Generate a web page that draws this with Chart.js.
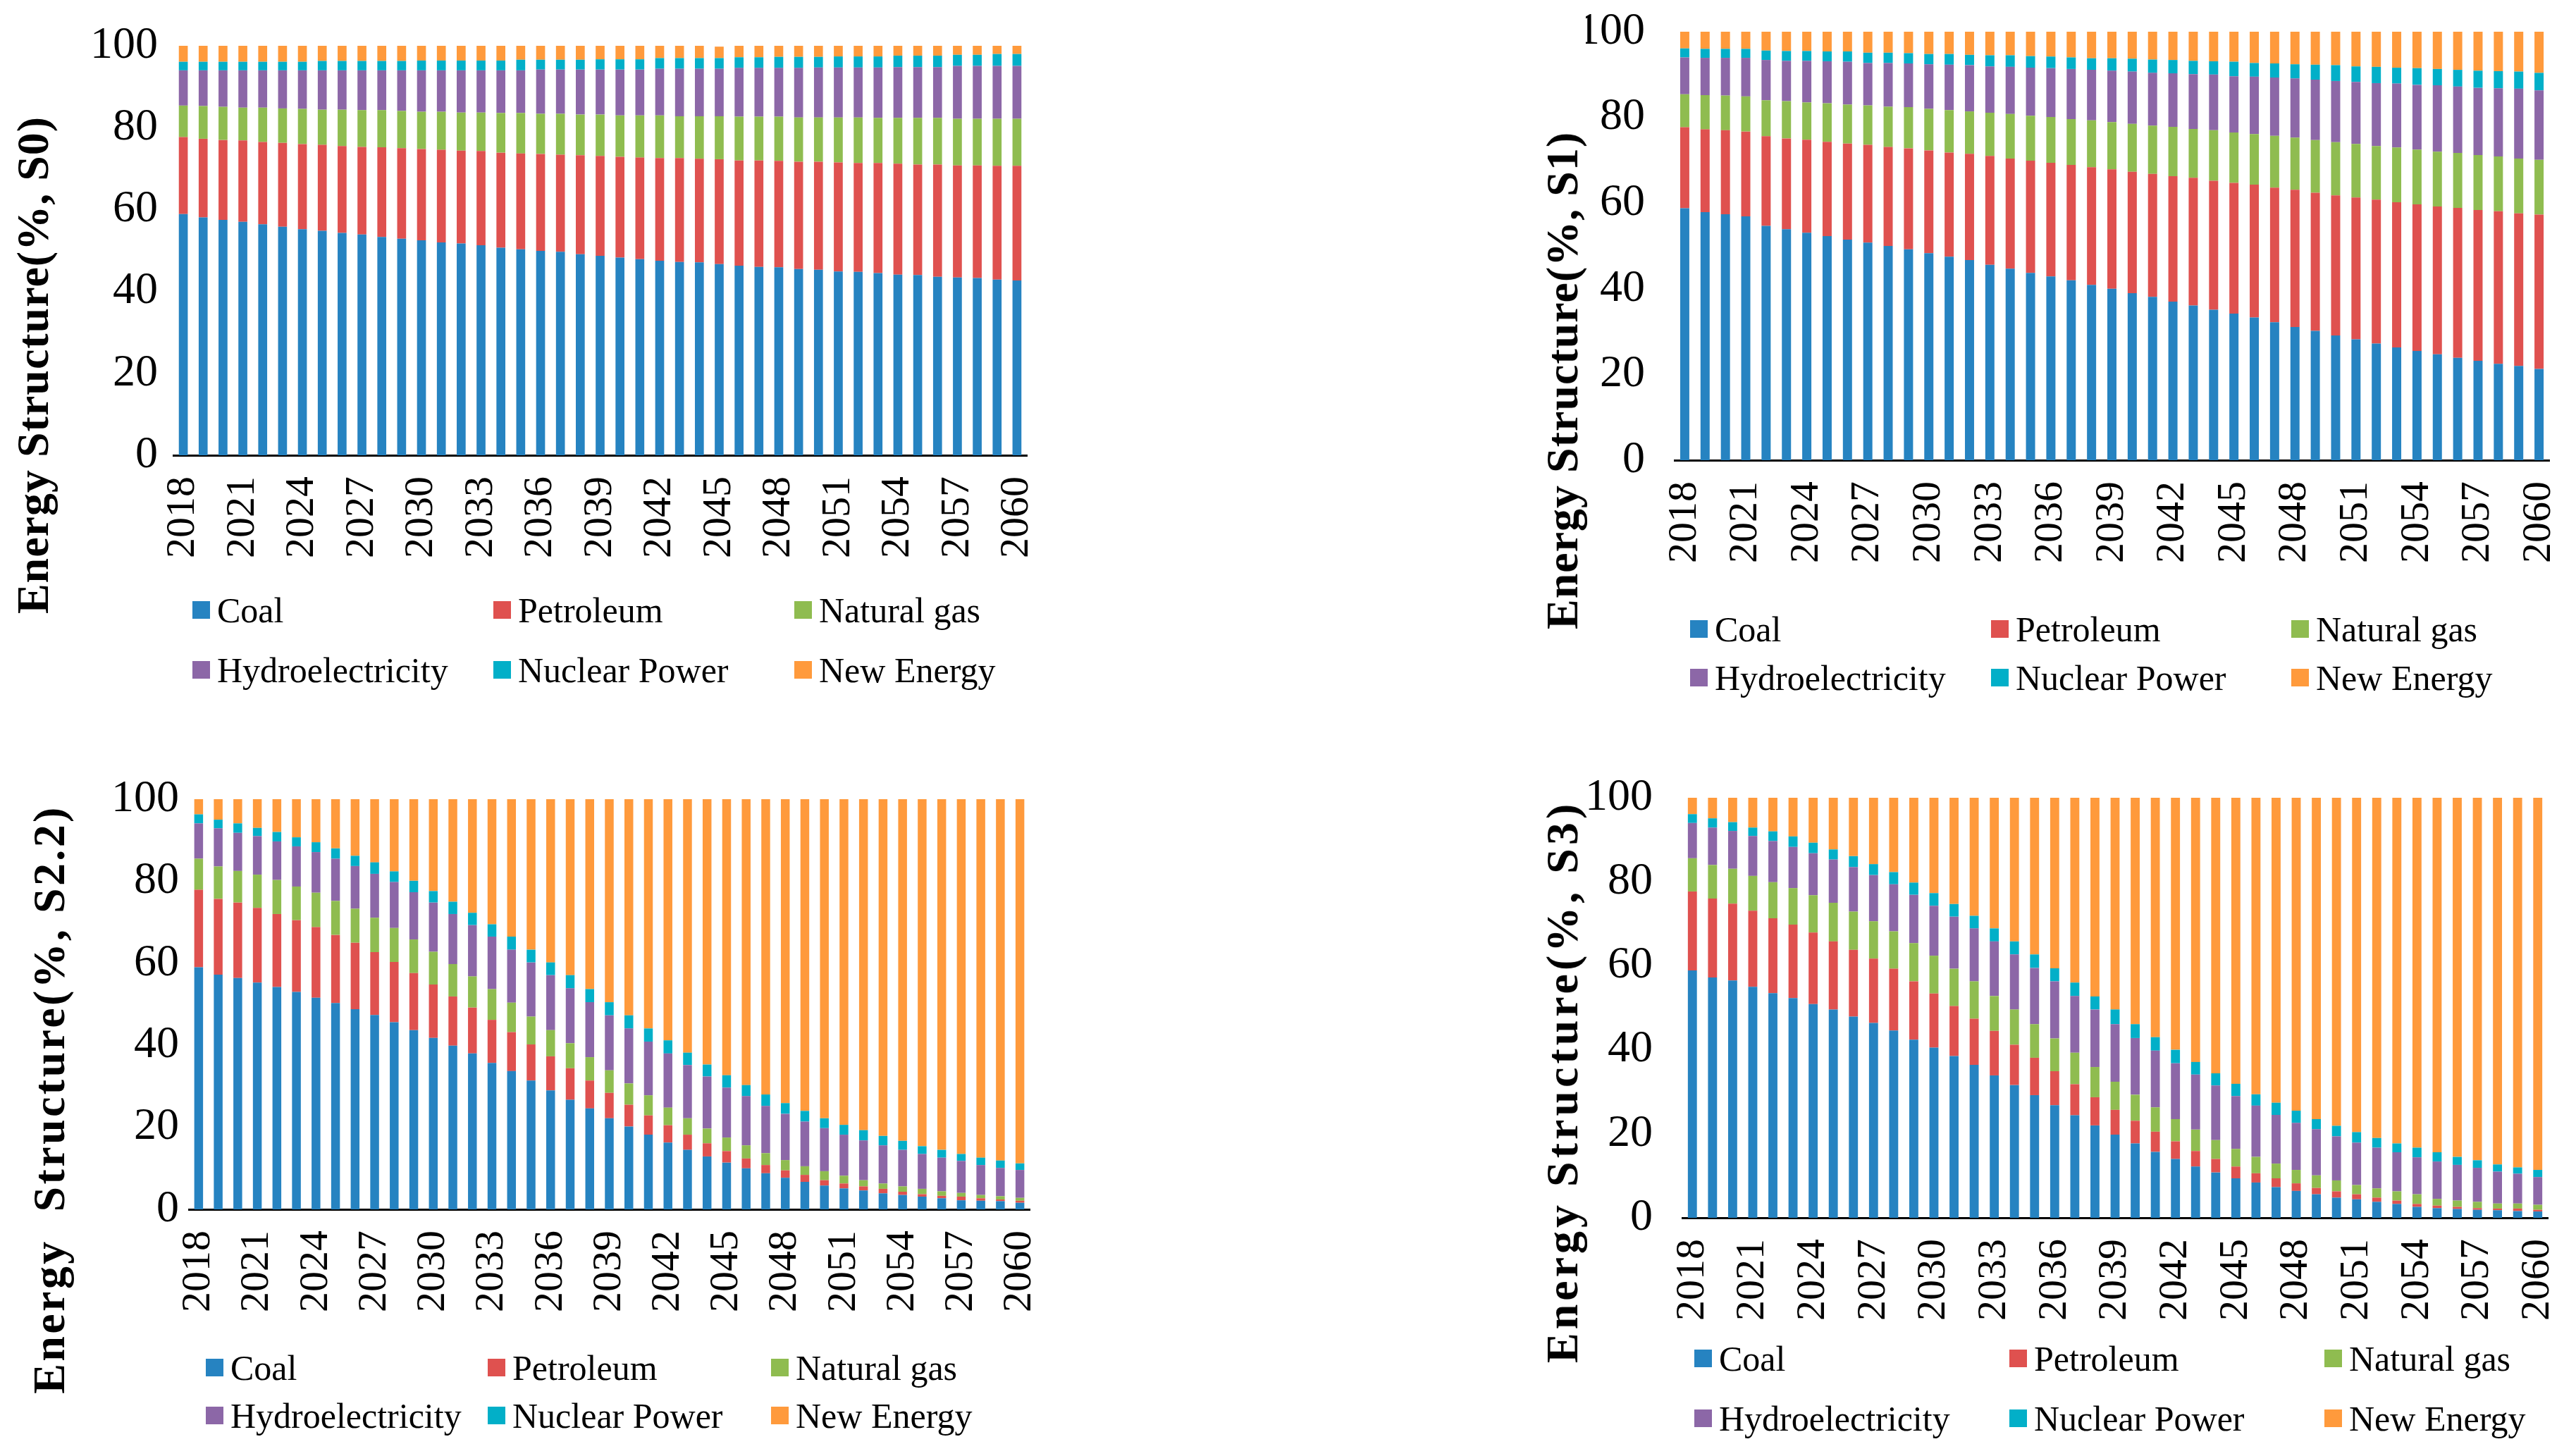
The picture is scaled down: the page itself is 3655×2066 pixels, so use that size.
<!DOCTYPE html>
<html><head><meta charset="utf-8">
<script src="https://cdn.jsdelivr.net/npm/chart.js@4.4.1/dist/chart.umd.min.js"></script>
<style>
html,body{margin:0;padding:0;background:#fff;}
body{width:3655px;height:2066px;position:relative;overflow:hidden;font-family:"Liberation Serif","Times New Roman",serif;color:#000;}
.panel{position:absolute;}
.ytitle{position:absolute;font-weight:bold;white-space:pre;transform:translate(-50%,-50%) rotate(-90deg);font-size:64px;line-height:1;}
.item{position:absolute;white-space:nowrap;font-size:50px;line-height:1;}
.box{position:absolute;width:25px;height:25px;}
.lt{position:absolute;}
</style></head>
<body>
<script>
// ---------------- DATA ----------------
const years = ['2018','2019','2020','2021','2022','2023','2024','2025','2026','2027','2028','2029','2030','2031','2032','2033','2034','2035','2036','2037','2038','2039','2040','2041','2042','2043','2044','2045','2046','2047','2048','2049','2050','2051','2052','2053','2054','2055','2056','2057','2058','2059','2060'];
const shownYears = ['2018','2021','2024','2027','2030','2033','2036','2039','2042','2045','2048','2051','2054','2057','2060'];
const yTickValues = [0,20,40,60,80,100];
const seriesNames = ['Coal','Petroleum','Natural gas','Hydroelectricity','Nuclear Power','New Energy'];
const seriesColors = ['#2683C1','#DF514F','#8FBC50','#8C67A7','#02AFC8','#FF9A3C'];

// Scenario S0
const s0Coal = [58.9,58.1,57.5,57.0,56.4,55.8,55.2,54.8,54.3,53.9,53.3,52.9,52.5,52.0,51.7,51.3,50.7,50.3,49.9,49.7,49.1,48.7,48.3,47.9,47.5,47.2,47.1,46.7,46.3,46.0,45.9,45.5,45.3,44.9,44.8,44.5,44.1,44.0,43.6,43.4,43.3,42.9,42.7];
const s0Petroleum = [18.8,19.2,19.5,19.9,20.1,20.5,20.8,21.0,21.2,21.4,21.9,22.1,22.3,22.6,22.7,23.0,23.2,23.4,23.7,23.7,24.2,24.4,24.6,24.8,25.1,25.4,25.3,25.6,25.7,26.0,26.0,26.2,26.4,26.6,26.6,26.9,27.1,27.0,27.4,27.4,27.5,27.8,28.0];
const s0Gas = [7.7,8.0,8.1,8.0,8.4,8.4,8.6,8.6,8.9,9.0,9.1,9.1,9.1,9.3,9.3,9.4,9.7,9.9,9.8,10.0,9.9,10.1,10.1,10.3,10.4,10.2,10.4,10.5,10.7,10.7,10.8,10.8,10.8,11.0,11.1,11.0,11.2,11.4,11.4,11.4,11.4,11.5,11.5];
const s0Hydro = [8.6,8.7,8.9,9.1,9.1,9.3,9.4,9.6,9.6,9.7,9.7,9.9,10.1,10.1,10.3,10.3,10.4,10.4,10.8,10.8,11.0,11.0,11.2,11.2,11.4,11.6,11.6,11.6,11.9,11.9,11.9,12.1,12.2,12.2,12.2,12.3,12.4,12.4,12.4,12.9,12.9,12.9,12.9];
const s0Nuclear = [2.1,2.1,2.1,2.1,2.1,2.1,2.1,2.3,2.3,2.3,2.3,2.3,2.4,2.4,2.4,2.4,2.4,2.6,2.4,2.4,2.4,2.5,2.5,2.5,2.6,2.6,2.6,2.6,2.6,2.6,2.7,2.7,2.6,2.7,2.7,2.7,2.8,2.8,2.8,2.7,2.7,2.9,2.9];
const s0NewEnergy = [3.9,3.9,3.9,3.9,3.9,3.9,3.9,3.7,3.7,3.7,3.7,3.7,3.6,3.6,3.6,3.6,3.6,3.4,3.4,3.4,3.4,3.3,3.3,3.3,3.0,3.0,3.0,2.8,2.8,2.8,2.7,2.7,2.7,2.6,2.6,2.6,2.4,2.4,2.4,2.2,2.2,2.0,2.0];

// Scenario S1
const s1Coal = [58.8,57.9,57.4,56.9,54.7,53.9,53.1,52.3,51.5,50.8,50.0,49.2,48.3,47.5,46.7,45.6,44.7,43.7,42.9,42.0,40.9,40.0,39.0,38.1,37.0,36.1,35.1,34.2,33.3,32.2,31.1,30.2,29.1,28.2,27.2,26.3,25.5,24.7,23.9,23.2,22.5,22.0,21.3];
const s1Petroleum = [18.9,19.3,19.6,19.8,20.9,21.2,21.7,22.0,22.4,22.8,23.1,23.6,24.0,24.3,24.8,25.4,25.7,26.2,26.5,26.9,27.5,27.9,28.3,28.7,29.3,29.8,30.1,30.5,31.0,31.4,32.0,32.2,32.7,33.1,33.6,33.9,34.2,34.5,35.0,35.2,35.6,35.6,36.0];
const s1Gas = [7.7,8.0,8.1,8.2,8.4,8.7,8.7,9.0,9.1,9.2,9.4,9.6,9.7,9.9,9.9,10.1,10.4,10.5,10.7,10.7,10.9,11.0,11.2,11.3,11.5,11.4,11.8,11.8,11.8,12.1,12.2,12.3,12.4,12.5,12.5,12.8,12.8,12.8,12.8,12.8,12.8,12.8,12.8];
const s1Hydro = [8.6,8.7,8.8,9.0,9.4,9.4,9.7,9.8,10.0,9.9,10.2,10.2,10.4,10.6,10.8,10.8,11.0,11.2,11.4,11.7,11.8,12.0,12.2,12.3,12.5,12.8,13.0,13.1,13.4,13.6,13.8,14.1,14.3,14.5,14.7,14.9,15.1,15.5,15.5,15.7,15.9,16.3,16.2];
const s1Nuclear = [2.1,2.1,2.1,2.1,2.2,2.3,2.3,2.3,2.4,2.4,2.4,2.4,2.4,2.5,2.4,2.6,2.7,2.7,2.7,2.7,2.7,2.9,3.0,3.1,3.1,3.1,3.1,3.4,3.2,3.3,3.3,3.5,3.7,3.6,3.8,3.7,3.9,3.8,3.9,4.0,4.0,4.0,4.1];
const s1NewEnergy = [3.9,4.0,4.0,4.0,4.4,4.5,4.5,4.6,4.6,4.9,4.9,5.0,5.2,5.2,5.4,5.5,5.5,5.7,5.8,6.0,6.2,6.2,6.3,6.5,6.6,6.8,6.9,7.0,7.3,7.4,7.6,7.7,7.8,8.1,8.2,8.4,8.5,8.7,8.9,9.1,9.2,9.3,9.6];

// Scenario S2.2
const s22Coal = [59.0,57.2,56.4,55.3,54.2,53.0,51.6,50.3,48.8,47.4,45.6,43.7,41.8,39.9,38.0,35.7,33.7,31.4,29.0,26.7,24.6,22.2,20.2,18.2,16.3,14.5,12.9,11.4,10.0,8.8,7.7,6.7,5.8,5.1,4.6,3.9,3.5,3.1,2.7,2.2,2.1,2.0,1.6];
const s22Petroleum = [18.9,18.5,18.4,18.2,17.8,17.5,17.2,16.6,16.2,15.3,14.7,13.9,13.0,12.0,11.2,10.5,9.5,8.8,8.3,7.7,6.8,6.2,5.3,4.7,4.2,3.7,3.2,2.8,2.4,2.0,1.8,1.7,1.3,1.2,1.0,1.1,0.8,0.6,0.6,0.9,0.6,0.4,0.5];
const s22Gas = [7.6,7.9,7.7,8.1,8.3,8.2,8.4,8.3,8.3,8.4,8.3,8.2,8.0,7.9,7.6,7.5,7.2,6.8,6.4,6.1,5.7,5.5,5.2,4.9,4.3,4.0,3.6,3.3,3.2,2.9,2.5,2.1,2.2,1.9,1.5,1.3,1.3,1.3,1.1,0.9,0.8,0.8,0.7];
const s22Hydro = [8.6,9.3,9.3,9.4,9.4,9.8,9.9,10.3,10.4,10.7,11.2,11.5,12.0,12.2,12.5,12.8,12.9,13.2,13.4,13.4,13.4,13.4,13.4,13.1,13.2,13.0,12.7,12.2,12.0,11.5,11.3,10.9,10.5,10.0,9.7,9.3,8.9,8.5,8.2,7.8,7.3,6.9,6.8];
const s22Nuclear = [2.2,2.1,2.3,2.0,2.3,2.2,2.4,2.5,2.5,2.8,2.6,2.8,2.8,3.0,3.0,3.0,3.2,3.1,3.1,3.2,3.2,3.2,3.2,3.2,3.2,3.0,2.9,3.0,2.7,2.8,2.6,2.6,2.4,2.4,2.5,2.3,2.2,1.9,1.9,1.7,1.8,1.8,1.6];
const s22NewEnergy = [3.7,5.0,5.9,7.0,8.0,9.3,10.5,12.0,13.8,15.4,17.6,19.9,22.4,25.0,27.7,30.5,33.5,36.7,39.8,42.9,46.3,49.5,52.7,55.9,58.8,61.8,64.7,67.3,69.7,72.0,74.1,76.0,77.8,79.4,80.7,82.1,83.3,84.6,85.5,86.5,87.4,88.1,88.8];

// Scenario S3
const s3Coal = [58.9,57.2,56.5,55.0,53.5,52.3,50.9,49.6,47.9,46.4,44.6,42.4,40.5,38.5,36.4,33.9,31.6,29.2,26.8,24.4,22.0,19.8,17.7,15.7,14.0,12.2,10.8,9.4,8.4,7.3,6.4,5.6,4.8,4.4,3.8,3.3,2.6,2.3,2.1,1.9,1.8,1.6,1.5];
const s3Petroleum = [18.8,18.8,18.3,18.1,17.8,17.5,17.0,16.2,15.9,15.3,14.7,13.9,12.9,11.9,11.0,10.6,9.6,8.9,8.1,7.4,6.7,5.9,5.4,4.8,4.2,3.7,3.2,2.8,2.2,2.1,1.8,1.5,1.5,1.2,1.0,0.8,0.7,0.6,0.5,0.4,0.4,0.6,0.4];
const s3Gas = [7.9,8.0,8.3,8.3,8.6,8.7,8.9,9.2,9.1,8.9,8.9,9.1,9.0,8.9,8.9,8.3,8.4,8.0,7.8,7.5,7.2,6.7,6.2,5.8,5.3,5.1,4.5,4.2,3.9,3.5,3.2,3.0,2.6,2.2,2.2,2.2,2.3,1.6,1.5,1.5,1.2,1.2,1.2];
const s3Hydro = [8.4,8.9,9.0,9.5,9.8,9.8,10.0,10.3,10.6,11.0,11.2,11.5,11.9,12.4,12.6,13.0,13.1,13.4,13.6,13.5,13.7,13.7,13.5,13.5,13.3,13.1,13.0,12.6,12.2,11.6,11.2,11.0,10.5,10.1,9.7,9.3,8.8,8.9,8.5,8.1,7.6,7.1,6.6];
const s3Nuclear = [2.1,2.2,2.1,2.0,2.3,2.5,2.5,2.4,2.6,2.6,2.9,2.9,3.0,3.0,3.0,3.1,3.1,3.2,3.1,3.2,3.1,3.5,3.3,3.2,3.2,3.0,2.9,2.9,2.7,2.9,2.9,2.4,2.5,2.5,2.3,2.1,2.3,2.2,1.9,1.8,1.7,1.5,1.7];
const s3NewEnergy = [3.9,4.9,5.8,7.1,8.0,9.2,10.7,12.3,13.9,15.8,17.7,20.2,22.7,25.3,28.1,31.1,34.2,37.3,40.6,44.0,47.3,50.4,53.9,57.0,60.0,62.9,65.6,68.1,70.6,72.6,74.5,76.5,78.1,79.6,81.0,82.3,83.3,84.4,85.5,86.3,87.3,88.0,88.6];

// ---------------- LAYOUT ----------------
const panels = [
  {title:'Energy Structure(%, S0)', series:[s0Coal,s0Petroleum,s0Gas,s0Hydro,s0Nuclear,s0NewEnergy],
   div:[100,20,1480,830], plot:[246,65,1457,646], tickPad:22, titleXY:[47,518], titleLS:1,
   legendX:[273,700,1127], legendY:[866,951]},
  {title:'Energy Structure(%, S1)', series:[s1Coal,s1Petroleum,s1Gas,s1Hydro,s1Nuclear,s1NewEnergy],
   div:[2250,10,3640,830], plot:[2376,45,3617,653], tickPad:42, titleXY:[2217,540], titleLS:1,
   legendX:[2398,2825,3251], legendY:[893,962]},
  {title:'Energy  Structure(%, S2.2)', series:[s22Coal,s22Petroleum,s22Gas,s22Hydro,s22Nuclear,s22NewEnergy],
   div:[120,1100,1480,1900], plot:[268,1134,1461,1716], tickPad:14, titleXY:[70,1560], titleLS:3.4,
   legendX:[292,692,1094], legendY:[1941,2009]},
  {title:'Energy Structure(%, S3)', series:[s3Coal,s3Petroleum,s3Gas,s3Hydro,s3Nuclear,s3NewEnergy],
   div:[2250,1100,3640,1900], plot:[2387,1132,3615,1728], tickPad:42, titleXY:[2217,1535], titleLS:5,
   legendX:[2404,2851,3298], legendY:[1928,2013]}
];

const FONT = "'Liberation Serif','Times New Roman',serif";

panels.forEach((p, k) => {
  const [dl, dt, dr, db] = p.div;
  const [pl, pt, pr, pb] = p.plot;
  const wrap = document.createElement('div');
  wrap.className = 'panel';
  wrap.style.left = dl + 'px'; wrap.style.top = dt + 'px';
  wrap.style.width = (dr - dl) + 'px'; wrap.style.height = (db - dt) + 'px';
  const cv = document.createElement('canvas');
  wrap.appendChild(cv);
  document.body.appendChild(wrap);

  new Chart(cv, {
    type: 'bar',
    data: {
      labels: years,
      datasets: seriesNames.map((n, i) => ({
        label: n, data: p.series[i], backgroundColor: seriesColors[i],
        borderWidth: 0, barPercentage: 0.45, categoryPercentage: 1.0
      }))
    },
    options: {
      responsive: true, maintainAspectRatio: false, devicePixelRatio: 1,
      animation: false,
      layout: {padding: {left: 0, top: pt - dt, right: dr - pr, bottom: 0}},
      plugins: {legend: {display: false}, tooltip: {enabled: false}, title: {display: false}},
      scales: {
        x: {
          stacked: true,
          grid: {display: false, drawTicks: false},
          border: {display: true, color: '#000', width: 3},
          ticks: {
            autoSkip: false, minRotation: 90, maxRotation: 90, padding: 30,
            color: '#000', font: {family: FONT, size: 58},
            callback: function(v) { const l = this.getLabelForValue(v); return shownYears.includes(l) ? l : ''; }
          },
          afterFit: s => { s.height = db - pb; s.paddingLeft = 0; s.paddingRight = 0; }
        },
        y: {
          stacked: true, min: 0, max: 100,
          grid: {display: false, drawTicks: false},
          border: {display: false},
          afterBuildTicks: s => { s.ticks = yTickValues.map(v => ({value: v})); },
          ticks: {padding: p.tickPad, color: '#000', font: {family: FONT, size: 64}},
          afterFit: s => { s.width = pl - dl; s.paddingTop = 0; s.paddingBottom = 0; }
        }
      }
    }
  });

  const t = document.createElement('div');
  t.className = 'ytitle';
  t.textContent = p.title;
  t.style.letterSpacing = p.titleLS + 'px';
  t.style.left = p.titleXY[0] + 'px'; t.style.top = p.titleXY[1] + 'px';
  document.body.appendChild(t);

  seriesNames.forEach((n, i) => {
    const col = i % 3, row = Math.floor(i / 3);
    const it = document.createElement('div');
    it.className = 'item';
    const x = p.legendX[col], y = p.legendY[row];
    it.style.left = x + 'px'; it.style.top = (y - 25) + 'px';
    const b = document.createElement('div');
    b.className = 'box'; b.style.background = seriesColors[i];
    b.style.left = '0px'; b.style.top = '12px';
    const tx = document.createElement('span');
    tx.className = 'lt'; tx.textContent = n;
    tx.style.left = '35px'; tx.style.top = '0px';
    it.appendChild(b); it.appendChild(tx);
    document.body.appendChild(it);
  });
});
</script>
</body></html>
